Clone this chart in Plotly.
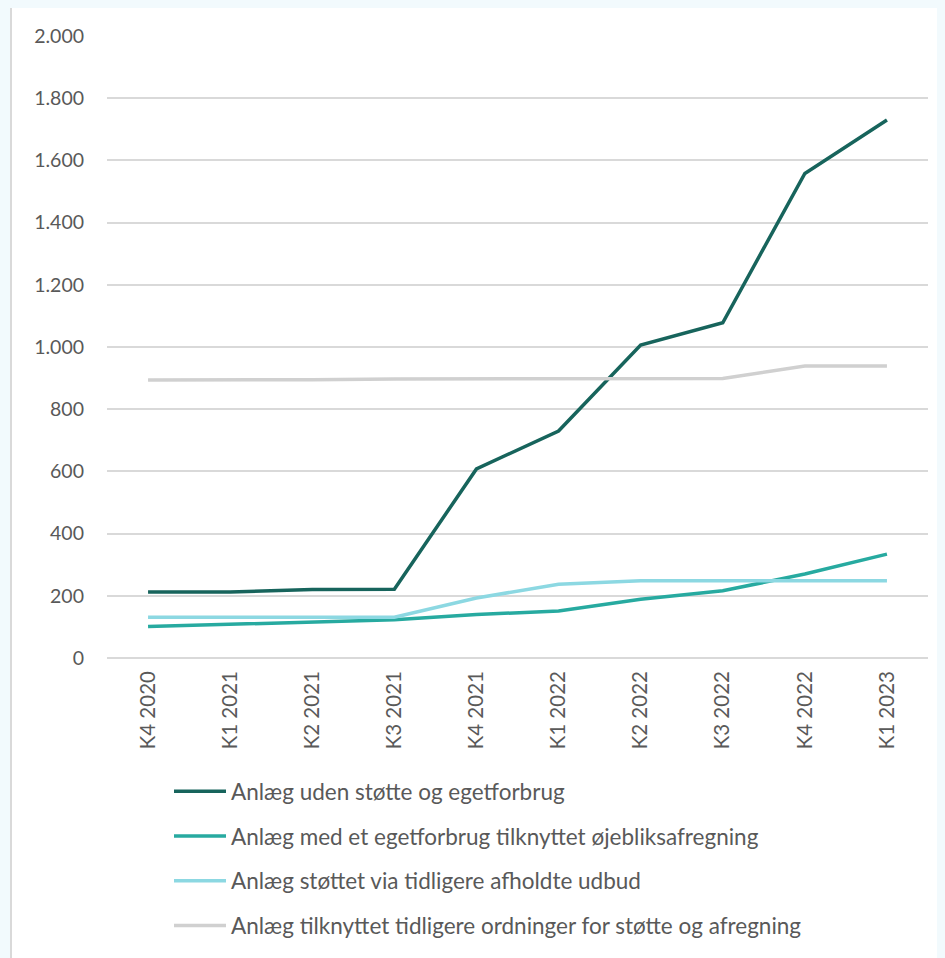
import plotly.graph_objects as go

categories = ["K4 2020", "K1 2021", "K2 2021", "K3 2021", "K4 2021",
              "K1 2022", "K2 2022", "K3 2022", "K4 2022", "K1 2023"]

uden_stotte = [212, 212, 220, 221, 608, 730, 1006, 1078, 1558, 1730]
med_egetforbrug = [101, 108, 116, 123, 140, 151, 189, 216, 270, 334]
udbud = [131, 131, 131, 131, 193, 237, 248, 248, 248, 248]
tidligere = [894, 894, 895, 897, 898, 898, 898, 899, 939, 939]

series_names = [
    "Anlæg uden støtte og egetforbrug",
    "Anlæg med et egetforbrug tilknyttet øjebliksafregning",
    "Anlæg støttet via tidligere afholdte udbud",
    "Anlæg tilknyttet tidligere ordninger for støtte og afregning",
]
series_values = [uden_stotte, med_egetforbrug, udbud, tidligere]
series_colors = ["#17645C", "#27AAA0", "#8CD8E2", "#D0D0D0"]

y_ticks = [0, 200, 400, 600, 800, 1000, 1200, 1400, 1600, 1800, 2000]
y_tick_text = ["0", "200", "400", "600", "800", "1.000", "1.200", "1.400",
               "1.600", "1.800", "2.000"]

OFF = 8  # page body margin
W, H = 945 - OFF, 958 - OFF
L, T = 107 - OFF, 36 - OFF
R = W - (928 - OFF)
B = H - (658 - OFF)
pw, ph = W - L - R, H - T - B

def px_x(p):  # page px -> paper x
    return (p - OFF - L) / pw

def px_y(p):  # page px -> paper y
    return (H - B - (p - OFF)) / ph

fig = go.Figure()
for i, (name, vals, col) in enumerate(zip(series_names, series_values, series_colors)):
    fig.add_trace(go.Scatter(
        x=categories, y=vals, name=name, mode="lines",
        line=dict(color=col, width=3.5),
        legendgroup=f"g{i}",
        hoverinfo="skip",
    ))

font_family = "Lato, 'Open Sans', sans-serif"
page_bg = "#F2FAFD"

fig.update_layout(
    width=W, height=H,
    margin=dict(l=L, r=R, t=T, b=B, pad=0, autoexpand=False),
    paper_bgcolor=page_bg,
    plot_bgcolor="rgba(0,0,0,0)",
    font=dict(family=font_family, size=19, color="#595959"),
    showlegend=True,
    legend=dict(
        orientation="v",
        x=px_x(169), y=px_y(770),
        xanchor="left", yanchor="top",
        bgcolor="rgba(0,0,0,0)",
        font=dict(family=font_family, size=22.5, color="#595959"),
        itemwidth=52,
        tracegroupgap=12.5,
        traceorder="grouped",
    ),
    xaxis=dict(
        type="category",
        categoryorder="array", categoryarray=categories,
        tickangle=-90,
        showgrid=False,
        showline=False,
        zeroline=False,
        ticks="",
        ticklabelstandoff=8,
        tickfont=dict(size=20.5, color="#595959"),
        range=[-0.5, len(categories) - 0.5],
    ),
    yaxis=dict(
        range=[0, 2000],
        tickvals=y_ticks, ticktext=y_tick_text,
        showgrid=True, gridcolor="#D9D9D9", gridwidth=1.5,
        zeroline=True, zerolinecolor="#D9D9D9", zerolinewidth=1.5,
        showline=False, ticks="",
        ticklabelstandoff=22,
        tickfont=dict(size=19.5, color="#595959"),
    ),
    shapes=[dict(
        type="rect", xref="paper", yref="paper", layer="below",
        x0=px_x(11), x1=px_x(945 + 30), y0=px_y(958 + 30), y1=px_y(6),
        fillcolor="white", line=dict(color="#D9D9D9", width=2),
    )],
)

fig.write_html("out.html",
               post_script=f"document.body.style.background='{page_bg}';")
